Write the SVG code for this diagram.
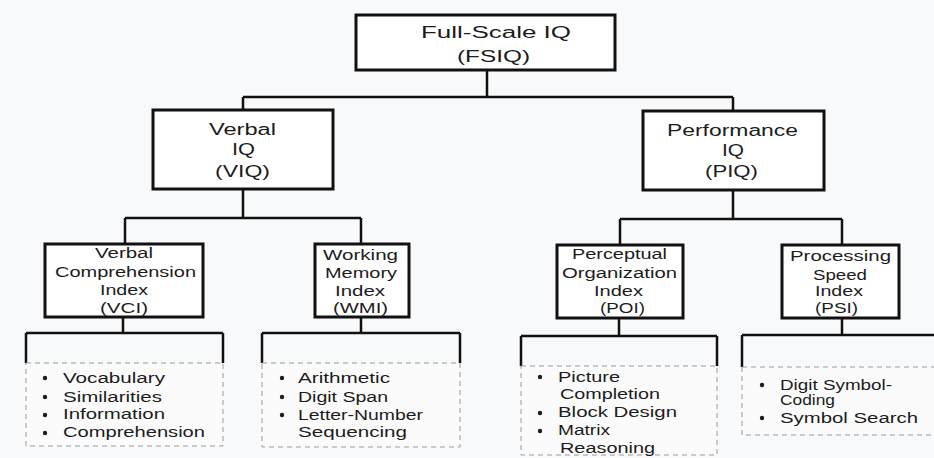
<svg xmlns="http://www.w3.org/2000/svg" width="934" height="458" viewBox="0 0 934 458">
<style>
.bg{fill:#f8f9fa}
.box{fill:#ffffff;stroke:#111;stroke-width:3}
.list{fill:#fbfbfb;stroke:#9a9a9a;stroke-width:1;stroke-dasharray:5 4}
.conn{stroke:#111;stroke-width:2.5;fill:none}
text{font-family:"Liberation Sans",Arial,sans-serif;fill:#1c1c1c}
.h{font-size:16px}
.s{font-size:14px}
.dot{fill:#1c1c1c}
</style>
<rect class="bg" x="0" y="0" width="934" height="458"/>
<g id="connectors">
<path class="conn" d="M487,70V97M243,97H733M243,97V110M733,97V112"/>
<path class="conn" d="M243,189V218M125,218H361M125,218V244M361,218V244"/>
<path class="conn" d="M733,190V219M620,219H842M620,219V245M842,219V245"/>
<path class="conn" d="M123,317V333M26,333H223M26,333V363M223,333V363"/>
<path class="conn" d="M361,317V333M262,333H460M262,333V363M460,333V363"/>
<path class="conn" d="M619,318V336M521,336H717M521,336V366M717,336V366"/>
<path class="conn" d="M842,318V335M742,335H936M742,335V367"/>
</g>
<g id="fsiq">
<rect class="box" x="356" y="15" width="259" height="55"/>
<text class="h" x="421" y="38" textLength="150" lengthAdjust="spacingAndGlyphs">Full-Scale IQ</text>
<text class="h" x="457" y="62" textLength="73" lengthAdjust="spacingAndGlyphs">(FSIQ)</text>
</g>
<g id="viq">
<rect class="box" x="153" y="110" width="180" height="79"/>
<text class="h" x="209" y="135" textLength="67" lengthAdjust="spacingAndGlyphs">Verbal</text>
<text class="h" x="232" y="155" textLength="23" lengthAdjust="spacingAndGlyphs">IQ</text>
<text class="h" x="215" y="177" textLength="55" lengthAdjust="spacingAndGlyphs">(VIQ)</text>
</g>
<g id="piq">
<rect class="box" x="643" y="111" width="181" height="79"/>
<text class="h" x="667" y="136" textLength="131" lengthAdjust="spacingAndGlyphs">Performance</text>
<text class="h" x="722" y="156" textLength="22" lengthAdjust="spacingAndGlyphs">IQ</text>
<text class="h" x="705" y="177" textLength="53" lengthAdjust="spacingAndGlyphs">(PIQ)</text>
</g>
<g id="vci">
<rect class="box" x="45" y="244" width="158" height="73"/>
<text class="s" x="95" y="258" textLength="58" lengthAdjust="spacingAndGlyphs">Verbal</text>
<text class="s" x="55" y="277" textLength="141" lengthAdjust="spacingAndGlyphs">Comprehension</text>
<text class="s" x="100" y="295" textLength="48" lengthAdjust="spacingAndGlyphs">Index</text>
<text class="s" x="100" y="313" textLength="48" lengthAdjust="spacingAndGlyphs">(VCI)</text>
</g>
<g id="wmi">
<rect class="box" x="315" y="244" width="94" height="73"/>
<text class="s" x="323" y="260" textLength="75" lengthAdjust="spacingAndGlyphs">Working</text>
<text class="s" x="325" y="278" textLength="72" lengthAdjust="spacingAndGlyphs">Memory</text>
<text class="s" x="335" y="296" textLength="50" lengthAdjust="spacingAndGlyphs">Index</text>
<text class="s" x="333" y="313" textLength="55" lengthAdjust="spacingAndGlyphs">(WMI)</text>
</g>
<g id="poi">
<rect class="box" x="557" y="245" width="126" height="73"/>
<text class="s" x="572" y="259" textLength="95" lengthAdjust="spacingAndGlyphs">Perceptual</text>
<text class="s" x="562" y="278" textLength="115" lengthAdjust="spacingAndGlyphs">Organization</text>
<text class="s" x="594" y="296" textLength="49" lengthAdjust="spacingAndGlyphs">Index</text>
<text class="s" x="600" y="313" textLength="45" lengthAdjust="spacingAndGlyphs">(POI)</text>
</g>
<g id="psi">
<rect class="box" x="782" y="245" width="117" height="73"/>
<text class="s" x="790" y="261" textLength="101" lengthAdjust="spacingAndGlyphs">Processing</text>
<text class="s" x="813" y="280" textLength="54" lengthAdjust="spacingAndGlyphs">Speed</text>
<text class="s" x="815" y="296" textLength="48" lengthAdjust="spacingAndGlyphs">Index</text>
<text class="s" x="815" y="313" textLength="43" lengthAdjust="spacingAndGlyphs">(PSI)</text>
</g>
<g id="vci-subtests">
<rect class="list" x="26" y="363" width="197" height="83"/>
<circle class="dot" cx="45" cy="378" r="2.2"/>
<circle class="dot" cx="45" cy="397" r="2.2"/>
<circle class="dot" cx="45" cy="415" r="2.2"/>
<circle class="dot" cx="45" cy="433" r="2.2"/>
<text class="s" x="63" y="383" textLength="102" lengthAdjust="spacingAndGlyphs">Vocabulary</text>
<text class="s" x="63" y="402" textLength="99" lengthAdjust="spacingAndGlyphs">Similarities</text>
<text class="s" x="63" y="419" textLength="102" lengthAdjust="spacingAndGlyphs">Information</text>
<text class="s" x="63" y="437" textLength="142" lengthAdjust="spacingAndGlyphs">Comprehension</text>
</g>
<g id="wmi-subtests">
<rect class="list" x="262" y="363" width="198" height="84"/>
<circle class="dot" cx="282" cy="378" r="2.2"/>
<circle class="dot" cx="282" cy="397" r="2.2"/>
<circle class="dot" cx="282" cy="415" r="2.2"/>
<text class="s" x="298" y="383" textLength="92" lengthAdjust="spacingAndGlyphs">Arithmetic</text>
<text class="s" x="298" y="402" textLength="90" lengthAdjust="spacingAndGlyphs">Digit Span</text>
<text class="s" x="298" y="420" textLength="125" lengthAdjust="spacingAndGlyphs">Letter-Number</text>
<text class="s" x="298" y="437" textLength="109" lengthAdjust="spacingAndGlyphs">Sequencing</text>
</g>
<g id="poi-subtests">
<rect class="list" x="521" y="366" width="196" height="89"/>
<circle class="dot" cx="540" cy="377" r="2.2"/>
<circle class="dot" cx="540" cy="413" r="2.2"/>
<circle class="dot" cx="540" cy="431" r="2.2"/>
<text class="s" x="558" y="382" textLength="62" lengthAdjust="spacingAndGlyphs">Picture</text>
<text class="s" x="560" y="399" textLength="100" lengthAdjust="spacingAndGlyphs">Completion</text>
<text class="s" x="558" y="417" textLength="119" lengthAdjust="spacingAndGlyphs">Block Design</text>
<text class="s" x="558" y="435" textLength="52" lengthAdjust="spacingAndGlyphs">Matrix</text>
<text class="s" x="560" y="453" textLength="95" lengthAdjust="spacingAndGlyphs">Reasoning</text>
</g>
<g id="psi-subtests">
<rect class="list" x="742" y="367" width="200" height="68"/>
<circle class="dot" cx="762" cy="385" r="2.2"/>
<circle class="dot" cx="762" cy="418" r="2.2"/>
<text class="s" x="780" y="390" textLength="112" lengthAdjust="spacingAndGlyphs">Digit Symbol-</text>
<text class="s" x="780" y="405" textLength="55" lengthAdjust="spacingAndGlyphs">Coding</text>
<text class="s" x="780" y="423" textLength="138" lengthAdjust="spacingAndGlyphs">Symbol Search</text>
</g>
</svg>
